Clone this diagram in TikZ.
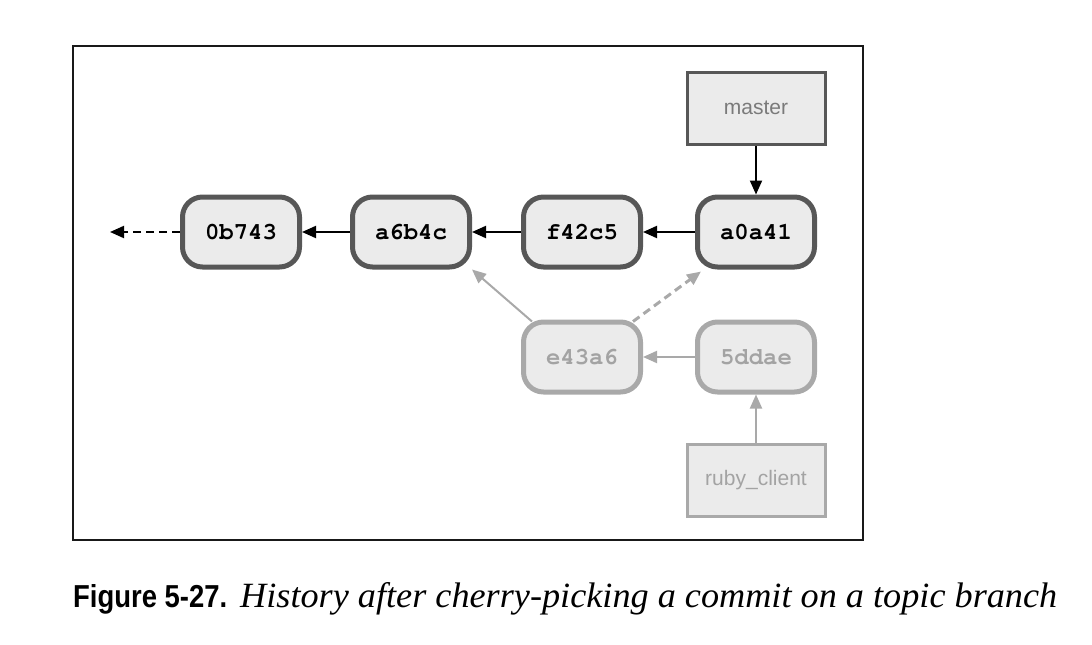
\documentclass[tikz,border=0pt]{standalone}
\usepackage[T1]{fontenc}
\usepackage{fontspec}
\usepackage{graphicx}
\usetikzlibrary{arrows.meta}
\newfontfamily\labelfont{Liberation Sans}
\newfontfamily\capsans{Liberation Sans}
\newfontfamily\capserif{Liberation Serif}
\newcommand\commitfont{\fontencoding{T1}\fontfamily{pcr}\fontseries{b}\fontshape{n}\fontsize{24}{24}\selectfont}
\definecolor{boxfill}{HTML}{EBEBEB}
\definecolor{darkline}{HTML}{575757}
\definecolor{lightline}{HTML}{A9A9A9}
\definecolor{lighttext}{HTML}{A3A3A3}
\definecolor{labeltext}{HTML}{7A7A7A}
\tikzset{
  commit/.style={draw=darkline, fill=boxfill, line width=5pt, rounded corners=20pt,
    minimum width=117pt, minimum height=70pt, inner sep=0pt,
    font=\commitfont, text=black},
  ghost/.style={commit, draw=lightline, text=lighttext},
  branchbox/.style={draw=darkline, fill=boxfill, line width=3pt,
    minimum width=138pt, minimum height=72pt, inner sep=0pt,
    font=\labelfont\fontsize{21}{21}\selectfont, text=labeltext},
  ghostbranch/.style={branchbox, draw=lightline, text=lighttext},
  parent/.style={line width=2pt, draw=black, -{Triangle[length=14pt,width=12pt]}},
  ghostparent/.style={line width=2pt, draw=lightline, -{Triangle[length=14pt,width=12pt]}},
  dashes/.style={dash pattern=on 8pt off 5pt}
}
\begin{document}
\begin{tikzpicture}[x=1pt,y=-1pt]
\useasboundingbox (0,0) rectangle (1092,645);
\draw[line width=2pt, draw=black!90] (73,46) rectangle (863,540);

\node[commit] (c0) at (241,232) {0b743};
\node[commit] (c1) at (411,232) {a6b4c};
\node[commit] (c2) at (582,232) {f42c5};
\node[commit] (c3) at (756,232) {a0a41};
\node[ghost] (e1) at (582,357) {e43a6};
\node[ghost] (e2) at (756,357) {5ddae};
\node[branchbox] (master) at (756,108) {master};
\node[ghostbranch] (ruby) at (756,480) {ruby\_client};
\coordinate (older) at (110,232);

\draw[parent, dashes] (c0.west) -- (older);
\draw[parent] (c1.west) -- (c0.east);
\draw[parent] (c2.west) -- (c1.east);
\draw[parent] (c3.west) -- (c2.east);
\draw[parent] (master.south) -- (c3.north);
\draw[ghostparent] (e2.west) -- (e1.east);
\draw[ghostparent] (ruby.north) -- (e2.south);
\draw[ghostparent] (e1.north west) ++(11,2) coordinate (e1nw) (e1nw) -- (c1.south east);
\draw[ghostparent, dashes, line width=3pt] (e1.north east) ++(-10,2) coordinate (e1ne) (e1ne) -- ([xshift=6pt,yshift=-2pt]c3.south west);

\node[anchor=base west, inner sep=0pt] (figlabel) at (73,607)
  {\resizebox{154pt}{23pt}{\capsans\bfseries Figure 5-27.}};
\node[anchor=base west, inner sep=0pt] (figtitle) at (240,607)
  {\resizebox{817pt}{25pt}{\capserif\itshape History after cherry-picking a commit on a topic branch}};
\end{tikzpicture}
\end{document}
